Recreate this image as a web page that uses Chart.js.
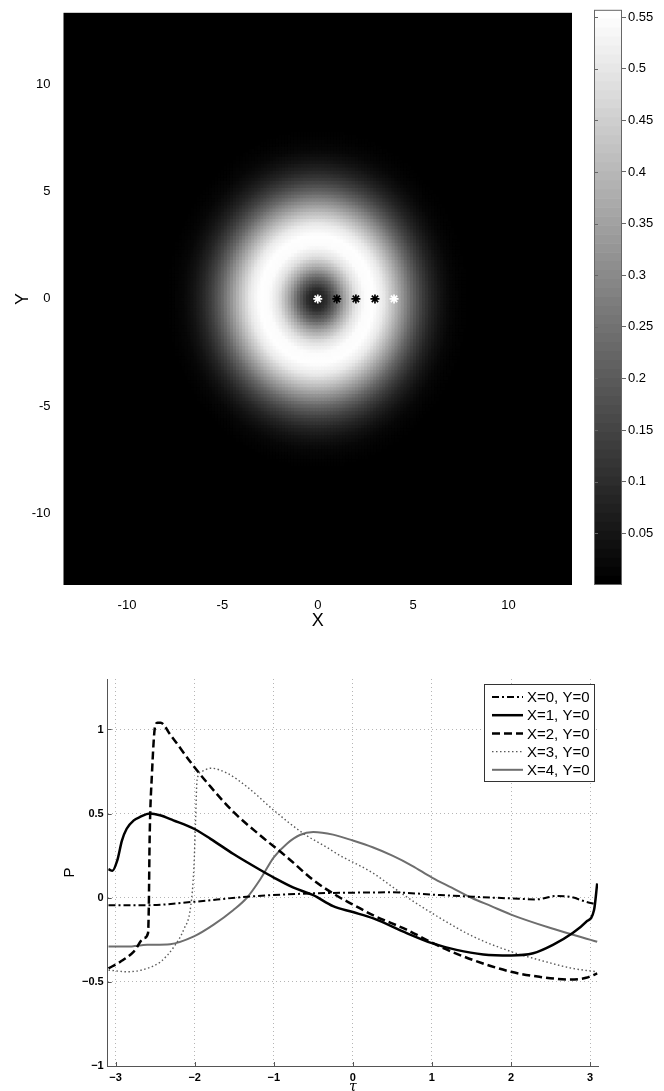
<!DOCTYPE html>
<html>
<head>
<meta charset="utf-8">
<script src="https://cdn.jsdelivr.net/npm/chart.js@4.4.0/dist/chart.umd.min.js"></script>
<style>
  body { margin: 0; background: #fff; width: 664px; height: 1091px; overflow: hidden; position: relative; }
  canvas { position: absolute; }
  #mapa { left: 0; top: 0; }
  #barra { left: 580px; top: 0; }
  #curvas { left: 0; top: 650px; }
</style>
</head>
<body>
<canvas id="mapa" width="580" height="640"></canvas>
<canvas id="barra" width="84" height="640"></canvas>
<canvas id="curvas" width="664" height="441"></canvas>
<script>
// Perfil radial de intensidad (radio en unidades de X, Y)
const perfilR = [0, 0.5, 1, 1.5, 2, 2.5, 3, 3.5, 4, 4.5, 5, 5.5, 6, 6.5, 7, 7.5, 8];
const perfilI = [0.05, 0.10, 0.22, 0.37, 0.49, 0.55, 0.555, 0.51, 0.42, 0.32, 0.22, 0.14, 0.08, 0.04, 0.015, 0.005, 0];

// Puntos marcados con asterisco
const marcaX = [0, 1, 2, 3, 4];
const marcaY = [0, 0, 0, 0, 0];
const marcaColor = ['#ffffff', '#000000', '#000000', '#000000', '#ffffff'];

const ticksMapa = [-10, -5, 0, 5, 10];
const maxBarra = 0.557;
const ticksBarra = [0.05, 0.1, 0.15, 0.2, 0.25, 0.3, 0.35, 0.4, 0.45, 0.5, 0.55];
const etiquetasBarra = ['0.05', '0.1', '0.15', '0.2', '0.25', '0.3', '0.35', '0.4', '0.45', '0.5', '0.55'];

// Curvas P(tau)
const nombres = ['X=0, Y=0', 'X=1, Y=0', 'X=2, Y=0', 'X=3, Y=0', 'X=4, Y=0'];
const tau0 = [-3.09, -2.58, -2.01, -1.34, -0.5, 0.0, 0.47, 1.1, 1.52, 2.0, 2.32, 2.57, 2.74, 2.95, 3.08];
const p0 = [-0.044, -0.044, -0.024, 0.006, 0.026, 0.03, 0.032, 0.016, 0.006, -0.004, -0.01, 0.01, 0.006, -0.024, -0.04];
const tau1 = [-3.09, -3.04, -2.98, -2.92, -2.86, -2.77, -2.69, -2.57, -2.44, -2.27, -2.01, -1.80, -1.51, -1.17, -1.0, -0.75, -0.5, -0.25, 0.0, 0.26, 0.68, 1.0, 1.31, 1.65, 2.0, 2.28, 2.53, 2.78, 2.95, 3.05, 3.09];
const p1 = [0.17, 0.16, 0.22, 0.34, 0.41, 0.46, 0.48, 0.50, 0.49, 0.46, 0.41, 0.35, 0.26, 0.165, 0.12, 0.06, 0.015, -0.05, -0.085, -0.123, -0.21, -0.27, -0.31, -0.337, -0.343, -0.33, -0.28, -0.21, -0.143, -0.073, 0.085];
const tau2 = [-3.09, -2.94, -2.77, -2.64, -2.59, -2.58, -2.57, -2.54, -2.50, -2.47, -2.43, -2.31, -2.01, -1.80, -1.51, -1.17, -0.83, -0.5, -0.16, 0.0, 0.26, 0.68, 1.1, 1.52, 2.0, 2.36, 2.74, 2.95, 3.09];
const p2 = [-0.42, -0.38, -0.32, -0.24, -0.21, -0.05, 0.34, 0.74, 1.02, 1.04, 1.04, 0.97, 0.78, 0.66, 0.51, 0.37, 0.24, 0.105, 0.0, -0.04, -0.105, -0.19, -0.29, -0.37, -0.44, -0.47, -0.486, -0.476, -0.45];
const tau3 = [-3.09, -2.85, -2.6, -2.43, -2.26, -2.14, -2.05, -2.01, -1.99, -1.97, -1.91, -1.80, -1.59, -1.34, -1.0, -0.62, -0.33, -0.16, 0.09, 0.26, 0.47, 0.68, 1.1, 1.52, 2.0, 2.36, 2.78, 3.09];
const p3 = [-0.43, -0.44, -0.42, -0.38, -0.29, -0.19, -0.05, 0.18, 0.44, 0.70, 0.75, 0.77, 0.74, 0.66, 0.52, 0.38, 0.30, 0.25, 0.19, 0.145, 0.075, 0.005, -0.12, -0.23, -0.32, -0.37, -0.42, -0.44];
const tau4 = [-3.09, -2.85, -2.6, -2.31, -2.01, -1.76, -1.51, -1.34, -1.17, -1.0, -0.83, -0.67, -0.5, -0.25, 0.0, 0.25, 0.5, 0.75, 1.0, 1.25, 1.5, 1.75, 2.0, 2.5, 3.09];
const p4 = [-0.29, -0.29, -0.28, -0.276, -0.23, -0.16, -0.073, 0.0, 0.11, 0.24, 0.323, 0.373, 0.39, 0.375, 0.34, 0.30, 0.25, 0.19, 0.12, 0.06, 0.0, -0.05, -0.10, -0.18, -0.262];
const ticksTau = [-3, -2, -1, 0, 1, 2, 3];
const ticksP = [-1, -0.5, 0, 0.5, 1];

// Estilos de linea (separados de los datos)
const estilos = [
    { color: '#000000', ancho: 2, guion: [7, 3, 2, 3] },
    { color: '#000000', ancho: 2.5, guion: [] },
    { color: '#000000', ancho: 2.5, guion: [8, 4] },
    { color: '#5a5a5a', ancho: 1.4, guion: [1.5, 2.5] },
    { color: '#6e6e6e', ancho: 2, guion: [] }
];

const fuente = "'Liberation Sans', Arial, sans-serif";

function gris(v) {
    const g = Math.round(Math.max(0, Math.min(1, v / maxBarra)) * 255);
    return `rgb(${g},${g},${g})`;
}

function intensidad(r) {
    for (let i = 1; i < perfilR.length; i++) {
        if (r <= perfilR[i]) {
            const t = (r - perfilR[i - 1]) / (perfilR[i] - perfilR[i - 1]);
            return perfilI[i - 1] + t * (perfilI[i] - perfilI[i - 1]);
        }
    }
    return 0;
}

// Celdas del mapa a partir del perfil radial
const paso = 0.16;
const celdas = [];
const coloresCeldas = [];
for (let i = -52; i <= 52; i++) {
    for (let j = -52; j <= 52; j++) {
        const x = i * paso, y = j * paso;
        const v = intensidad(Math.hypot(x, y));
        if (v > 0.002) {
            celdas.push({ x: x, y: y });
            coloresCeldas.push(gris(v));
        }
    }
}
const marcas = marcaX.map((x, i) => ({ x: x, y: marcaY[i] }));

const fondoNegro = {
    id: 'fondoNegro',
    beforeDatasetsDraw(chart) {
        const a = chart.chartArea;
        chart.ctx.save();
        chart.ctx.fillStyle = '#000';
        chart.ctx.fillRect(a.left, a.top, a.right - a.left, a.bottom - a.top);
        chart.ctx.restore();
    }
};

new Chart(document.getElementById('mapa'), {
    type: 'scatter',
    data: {
        datasets: [
            { data: marcas, pointStyle: 'star', pointRadius: 4.5, pointBorderWidth: 1.7, pointBorderColor: marcaColor, pointBackgroundColor: marcaColor },
            { data: celdas, pointStyle: 'rect', pointRadius: 3.4, pointBorderWidth: 0, pointBackgroundColor: coloresCeldas }
        ]
    },
    options: {
        responsive: false,
        animation: false,
        events: [],
        layout: { padding: { top: 7, right: 8, left: 0, bottom: 0 } },
        plugins: { legend: { display: false }, tooltip: { enabled: false } },
        scales: {
            x: {
                type: 'linear', min: -13.33, max: 13.33,
                afterBuildTicks: s => { s.ticks = ticksMapa.map(v => ({ value: v })); },
                afterFit: s => { s.height = 55; },
                grid: { display: false },
                border: { display: false },
                ticks: { color: '#000', padding: 5, font: { family: fuente, size: 13 }, callback: v => String(v) },
                title: { display: true, text: 'X', color: '#000', font: { family: fuente, size: 18 }, padding: { top: 0, bottom: 8 } }
            },
            y: {
                type: 'linear', min: -13.33, max: 13.33,
                afterBuildTicks: s => { s.ticks = ticksMapa.map(v => ({ value: v })); },
                afterFit: s => { s.width = 63.5; },
                grid: { display: false },
                border: { display: false },
                ticks: { color: '#000', padding: 5, font: { family: fuente, size: 13 }, callback: v => String(v) },
                title: { display: true, text: 'Y', color: '#000', font: { family: fuente, size: 18 }, padding: { top: 12, bottom: 0 } }
            }
        }
    },
    plugins: [fondoNegro]
});

// Barra de color: 64 niveles de gris
const datosBarra = [];
for (let i = 0; i < 64; i++) {
    datosBarra.push({
        data: [[i * maxBarra / 64, (i + 1) * maxBarra / 64]],
        backgroundColor: gris((i / 63) * maxBarra),
        borderWidth: 0,
        barPercentage: 1,
        categoryPercentage: 1,
        grouped: false
    });
}

const marcoBarra = {
    id: 'marcoBarra',
    afterDraw(chart) {
        const a = chart.chartArea;
        const ctx = chart.ctx;
        const y = chart.scales.y;
        ctx.save();
        ctx.strokeStyle = '#666';
        ctx.lineWidth = 1;
        ctx.strokeRect(a.left + 0.5, a.top + 0.5, a.right - a.left - 1, a.bottom - a.top - 1);
        ticksBarra.forEach(v => {
            const py = Math.round(y.getPixelForValue(v)) + 0.5;
            ctx.beginPath();
            ctx.moveTo(a.left, py);
            ctx.lineTo(a.left + 4, py);
            ctx.stroke();
        });
        ctx.restore();
    }
};

new Chart(document.getElementById('barra'), {
    type: 'bar',
    data: { labels: [''], datasets: datosBarra },
    options: {
        responsive: false,
        animation: false,
        events: [],
        layout: { padding: { top: 7, right: 0, left: 14, bottom: 55 } },
        plugins: { legend: { display: false }, tooltip: { enabled: false } },
        scales: {
            x: { display: false },
            y: {
                position: 'right', min: 0, max: maxBarra,
                afterBuildTicks: s => { s.ticks = ticksBarra.map(v => ({ value: v })); },
                afterFit: s => { s.width = 42; },
                grid: { drawOnChartArea: false, drawTicks: true, tickLength: 4, color: '#666' },
                border: { display: false },
                ticks: {
                    color: '#000', padding: 2, font: { family: fuente, size: 13 },
                    callback: (v, i) => etiquetasBarra[i]
                }
            }
        }
    },
    plugins: [marcoBarra]
});

// Grafico inferior de P frente a tau
const taus = [tau0, tau1, tau2, tau3, tau4];
const ps = [p0, p1, p2, p3, p4];
const curvas = taus.map((t, k) => ({
    label: nombres[k],
    data: t.map((x, i) => ({ x: x, y: ps[k][i] })),
    borderColor: estilos[k].color,
    borderWidth: estilos[k].ancho,
    borderDash: estilos[k].guion,
    pointRadius: 0,
    fill: false,
    cubicInterpolationMode: 'monotone'
}));

const menos = v => (v < 0 ? '\u2212' + String(Math.abs(v)) : String(v));

const marcasInternas = {
    id: 'marcasInternas',
    afterDatasetsDraw(chart) {
        const a = chart.chartArea;
        const ctx = chart.ctx;
        ctx.save();
        ctx.strokeStyle = '#555';
        ctx.lineWidth = 1;
        ticksTau.forEach(v => {
            const px = Math.round(chart.scales.x.getPixelForValue(v)) + 0.5;
            ctx.beginPath(); ctx.moveTo(px, a.bottom); ctx.lineTo(px, a.bottom - 4); ctx.stroke();
        });
        ticksP.forEach(v => {
            const py = Math.round(chart.scales.y.getPixelForValue(v)) + 0.5;
            ctx.beginPath(); ctx.moveTo(a.left, py); ctx.lineTo(a.left + 4, py); ctx.stroke();
        });
        ctx.restore();
    }
};

// Leyenda dentro del area, como en MATLAB
const leyenda = {
    id: 'leyenda',
    afterDraw(chart) {
        const a = chart.chartArea;
        const ctx = chart.ctx;
        const ancho = 110, alto = 97;
        const x0 = a.right - 4 - ancho, y0 = a.top + 5;
        ctx.save();
        ctx.fillStyle = '#fff';
        ctx.fillRect(x0, y0, ancho, alto);
        ctx.strokeStyle = '#333';
        ctx.lineWidth = 1;
        ctx.strokeRect(x0 + 0.5, y0 + 0.5, ancho, alto);
        ctx.font = `15px ${fuente}`;
        ctx.textBaseline = 'middle';
        ctx.fillStyle = '#000';
        chart.data.datasets.forEach((ds, i) => {
            const yy = y0 + 13 + i * 18.2;
            ctx.beginPath();
            ctx.strokeStyle = ds.borderColor;
            ctx.lineWidth = ds.borderWidth;
            ctx.setLineDash(ds.borderDash);
            ctx.moveTo(x0 + 8, yy);
            ctx.lineTo(x0 + 39, yy);
            ctx.stroke();
            ctx.setLineDash([]);
            ctx.fillText(ds.label, x0 + 43, yy + 1);
        });
        ctx.restore();
    }
};

new Chart(document.getElementById('curvas'), {
    type: 'line',
    data: { datasets: curvas },
    options: {
        responsive: false,
        animation: false,
        events: [],
        layout: { padding: { top: 29, right: 66, left: 0, bottom: 0 } },
        plugins: { legend: { display: false }, tooltip: { enabled: false } },
        scales: {
            x: {
                type: 'linear', min: -3.1, max: 3.1,
                afterBuildTicks: s => { s.ticks = ticksTau.map(v => ({ value: v })); },
                afterFit: s => { s.height = 25; },
                grid: { color: '#b5b5b5', drawTicks: false },
                border: { display: true, color: '#555', width: 1, dash: [1, 3] },
                ticks: { color: '#000', padding: 5, font: { family: fuente, size: 11, weight: 'bold' }, callback: menos },
                title: { display: true, text: '\u03c4', color: '#000', font: { family: "'DejaVu Serif', serif", size: 14, style: 'italic' }, padding: { top: 0, bottom: -5 } }
            },
            y: {
                type: 'linear', min: -1, max: 1.3,
                afterBuildTicks: s => { s.ticks = ticksP.map(v => ({ value: v })); },
                afterFit: s => { s.width = 107.7; },
                grid: { color: '#b5b5b5', drawTicks: false },
                border: { display: true, color: '#555', width: 1, dash: [1, 3] },
                ticks: { color: '#000', padding: 4, font: { family: fuente, size: 11, weight: 'bold' }, callback: menos },
                title: { display: true, text: 'P', color: '#000', font: { family: fuente, size: 15 }, padding: { top: 61, bottom: 0 } }
            }
        }
    },
    plugins: [marcasInternas, leyenda]
});
</script>
</body>
</html>
